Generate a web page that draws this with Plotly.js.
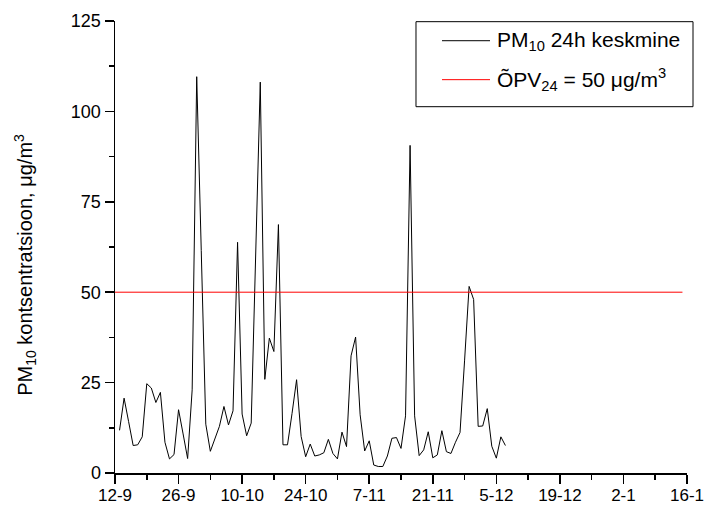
<!DOCTYPE html>
<html>
<head>
<meta charset="utf-8">
<script src="https://cdn.plot.ly/plotly-3.0.1.min.js"></script>
<style>
  html, body { margin: 0; padding: 0; background: #fff; }
  #chart { width: 707px; height: 507px; }
</style>
</head>
<body>
<div id="chart"></div>
<script>
// Daily PM10 averages (µg/m³), one value per day starting 13 September
const firstDay = '2010-09-13';
const pm10Values = [
  11.8, 20.7, 14.2, 7.6, 7.8, 10.0, 24.7, 23.5, 19.5, 22.3,
  8.5, 3.9, 5.1, 17.5, 10.8, 4.0, 23.0, 109.6, 61.5, 13.5,
  6.0, 9.2, 12.9, 18.4, 13.3, 17.2, 63.8, 16.3, 10.3, 13.8,
  61.0, 108.1, 25.9, 37.3, 33.6, 68.7, 7.8, 7.8, 16.5, 25.8,
  10.1, 4.5, 8.0, 4.7, 5.0, 5.6, 9.3, 5.4, 3.9, 11.3,
  7.3, 32.4, 37.6, 16.1, 6.1, 8.9, 2.2, 1.8, 1.8, 4.7,
  9.6, 9.8, 6.8, 15.8, 90.6, 15.8, 4.8, 6.4, 11.4, 4.2,
  5.0, 11.7, 5.9, 5.4, 8.5, 11.2, 31.0, 51.6, 48.0, 12.9,
  13.0, 17.8, 7.4, 4.1, 10.0, 7.6
];

// 24-hour limit value line
const limitDates = ['2010-09-12', '2011-01-15'];
const limitValues = [50, 50];

// Axis extents and tick spacing
const xRange = ['2010-09-12', '2011-01-16'];
const yRange = [0, 125];
const DAY_MS = 86400000;

const seriesName = 'PM<sub>10</sub> 24h keskmine';
const limitName = 'ÕPV<sub>24</sub> = 50 μg/m<sup>3</sup>';
const yTitle = 'PM<sub>10</sub> kontsentratsioon, μg/m<sup>3</sup>';

const seriesColor = '#000000';
const limitColor = '#ff0000';

// Consecutive daily dates for the PM10 series
function dailyDates(start, count) {
  const out = [];
  const t0 = Date.parse(start + 'T00:00:00Z');
  for (let i = 0; i < count; i++) {
    out.push(new Date(t0 + i * DAY_MS).toISOString().slice(0, 10));
  }
  return out;
}
const pm10Dates = dailyDates(firstDay, pm10Values.length);

const fontFamily = 'Arial, "Liberation Sans", sans-serif';

const traces = [
  {
    type: 'scatter', mode: 'lines',
    x: pm10Dates, y: pm10Values,
    name: seriesName,
    line: { color: seriesColor, width: 1 }
  },
  {
    type: 'scatter', mode: 'lines',
    x: limitDates, y: limitValues,
    name: limitName,
    line: { color: limitColor, width: 1 }
  }
];

// Framed key in the upper right, in paper coordinates
const key = {
  box: { x0: 0.5262, x1: 1.0105, y0: 0.8104, y1: 0.9985 },
  sampleX0: 0.5717, sampleX1: 0.6556, textX: 0.6643,
  rows: [
    { y: 0.9564, label: seriesName, color: seriesColor },
    { y: 0.8702, label: limitName, color: limitColor }
  ]
};

const shapes = [
  {
    type: 'rect', xref: 'paper', yref: 'paper',
    x0: key.box.x0, x1: key.box.x1, y0: key.box.y0, y1: key.box.y1,
    line: { color: '#000', width: 1 }, fillcolor: 'rgba(255,255,255,1)', layer: 'above'
  }
].concat(key.rows.map(r => ({
  type: 'line', xref: 'paper', yref: 'paper',
  x0: key.sampleX0, x1: key.sampleX1, y0: r.y, y1: r.y,
  line: { color: r.color, width: 1 }, layer: 'above'
})));

const annotations = [
  {
    text: yTitle, textangle: -90,
    xref: 'paper', yref: 'paper',
    x: -0.157, y: 0.461, xanchor: 'center', yanchor: 'middle',
    showarrow: false,
    font: { family: fontFamily, size: 20, color: '#000' }
  }
].concat(key.rows.map(r => ({
  text: r.label,
  xref: 'paper', yref: 'paper',
  x: key.textX, y: r.y, xanchor: 'left', yanchor: 'middle',
  showarrow: false,
  font: { family: fontFamily, size: 21, color: '#000' }
})));

const layout = {
  width: 707, height: 507,
  margin: { l: 115, r: 20, t: 21, b: 34, pad: 0 },
  paper_bgcolor: '#ffffff', plot_bgcolor: '#ffffff',
  font: { family: fontFamily, size: 18, color: '#000000' },
  showlegend: false,
  xaxis: {
    type: 'date',
    range: xRange,
    tick0: xRange[0], dtick: 14 * DAY_MS,
    tickformat: '%-d-%-m',
    ticks: 'outside', ticklen: 9, tickwidth: 1.5, tickcolor: '#000',
    ticklabelstandoff: -3,
    minor: { dtick: 7 * DAY_MS, ticks: 'outside', ticklen: 5, tickwidth: 1.5, tickcolor: '#000', showgrid: false },
    showline: true, linecolor: '#000', linewidth: 1.5,
    showgrid: false, zeroline: false,
    tickfont: { family: fontFamily, size: 17, color: '#000' }
  },
  yaxis: {
    range: yRange,
    tick0: 0, dtick: 25,
    ticks: 'outside', ticklen: 9, tickwidth: 1.5, tickcolor: '#000',
    minor: { dtick: 12.5, ticks: 'outside', ticklen: 5, tickwidth: 1.5, tickcolor: '#000', showgrid: false },
    showline: true, linecolor: '#000', linewidth: 1.5,
    showgrid: false, zeroline: false,
    tickfont: { family: fontFamily, size: 18, color: '#000' }
  },
  shapes: shapes,
  annotations: annotations
};

Plotly.newPlot('chart', traces, layout, { displayModeBar: false, staticPlot: true });
</script>
</body>
</html>
